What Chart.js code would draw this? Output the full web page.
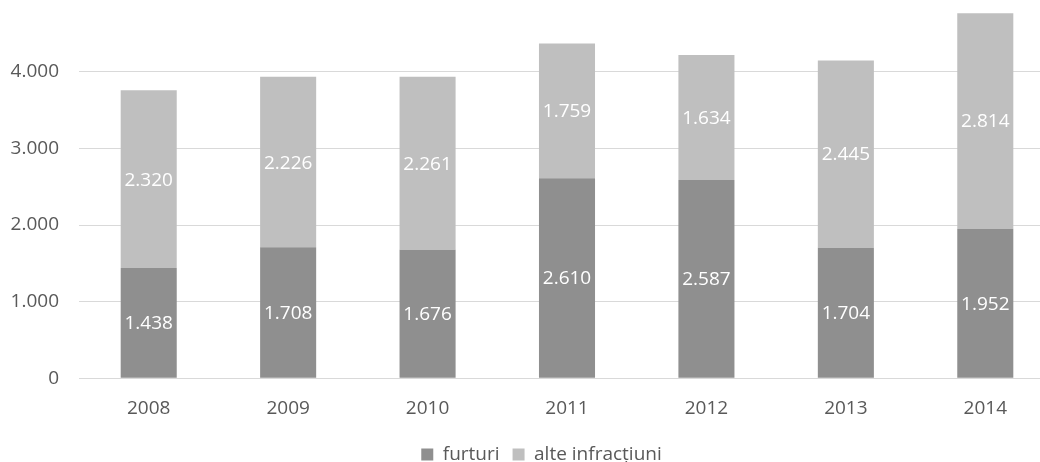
<!DOCTYPE html>
<html>
<head>
<meta charset="utf-8">
<script src="https://cdn.jsdelivr.net/npm/chart.js@4/dist/chart.umd.min.js"></script>
<style>
  html, body { margin: 0; padding: 0; background: #ffffff; overflow: hidden; width: 1040px; height: 462px; }
  #wrap { position: absolute; left: 0; top: -27px; width: 1082px; height: 501px; }
</style>
</head>
<body>
<div id="wrap"><canvas id="c" width="1082" height="501"></canvas></div>
<script>
const categories = ["2008", "2009", "2010", "2011", "2012", "2013", "2014"];
const furturi = [1438, 1708, 1676, 2610, 2587, 1704, 1952];
const alteInfractiuni = [2320, 2226, 2261, 1759, 1634, 2445, 2814];
const seriesNames = ["furturi", "alte infracțiuni"];
const yTicks = [0, 1000, 2000, 3000, 4000];

function fmt(v) {
  return String(Math.round(v)).replace(/\B(?=(\d{3})+(?!\d))/g, ".");
}

const FONT = "'Open Sans', 'DejaVu Sans', sans-serif";
const FS = 19;

const labelPlugin = {
  id: 'barLabels',
  afterLayout(chart) {
    if (chart.legend) { chart.legend.left += 14; chart.legend.right += 14; }
  },
  afterDatasetsDraw(chart) {
    const ctx = chart.ctx;
    ctx.save();
    ctx.font = FS + "px " + FONT;
    ctx.fillStyle = "#ffffff";
    ctx.textAlign = "center";
    ctx.textBaseline = "middle";
    chart.data.datasets.forEach((ds, di) => {
      const meta = chart.getDatasetMeta(di);
      meta.data.forEach((bar, i) => {
        const p = bar.getProps(['x', 'y', 'base'], true);
        ctx.fillText(fmt(ds.data[i]), p.x, (p.y + p.base) / 2 + 1);
      });
    });
    ctx.restore();
  }
};

new Chart(document.getElementById('c'), {
  type: 'bar',
  data: {
    labels: categories,
    datasets: [
      { label: seriesNames[0], data: furturi, backgroundColor: '#8f8f8f', barPercentage: 1, categoryPercentage: 0.402 },
      { label: seriesNames[1], data: alteInfractiuni, backgroundColor: '#bfbfbf', barPercentage: 1, categoryPercentage: 0.402 }
    ]
  },
  options: {
    responsive: false,
    animation: false,
    devicePixelRatio: 1,
    layout: { padding: { top: 0, right: 27, left: 0, bottom: 0 } },
    plugins: {
      legend: {
        position: 'bottom',
        labels: {
          font: { family: FONT, size: FS },
          color: '#595959',
          boxWidth: 12,
          boxHeight: 12,
          padding: 13
        }
      },
      tooltip: { enabled: false }
    },
    scales: {
      x: {
        stacked: true,
        afterFit(axis) { axis.height -= 7; },
        grid: { display: false, drawTicks: false },
        border: { display: true, color: '#d9d9d9', width: 1 },
        ticks: { font: { family: FONT, size: FS }, color: '#595959', padding: 19 }
      },
      y: {
        stacked: true,
        min: 0,
        max: 4880,
        afterBuildTicks(axis) { axis.ticks = yTicks.map(v => ({ value: v })); },
        afterFit(axis) { axis.width = 79; },
        grid: { color: '#d9d9d9', lineWidth: 1, drawTicks: false },
        border: { display: false },
        ticks: {
          font: { family: FONT, size: FS },
          color: '#595959',
          padding: 20,
          callback: v => fmt(v)
        }
      }
    }
  },
  plugins: [labelPlugin]
});
</script>
</body>
</html>
